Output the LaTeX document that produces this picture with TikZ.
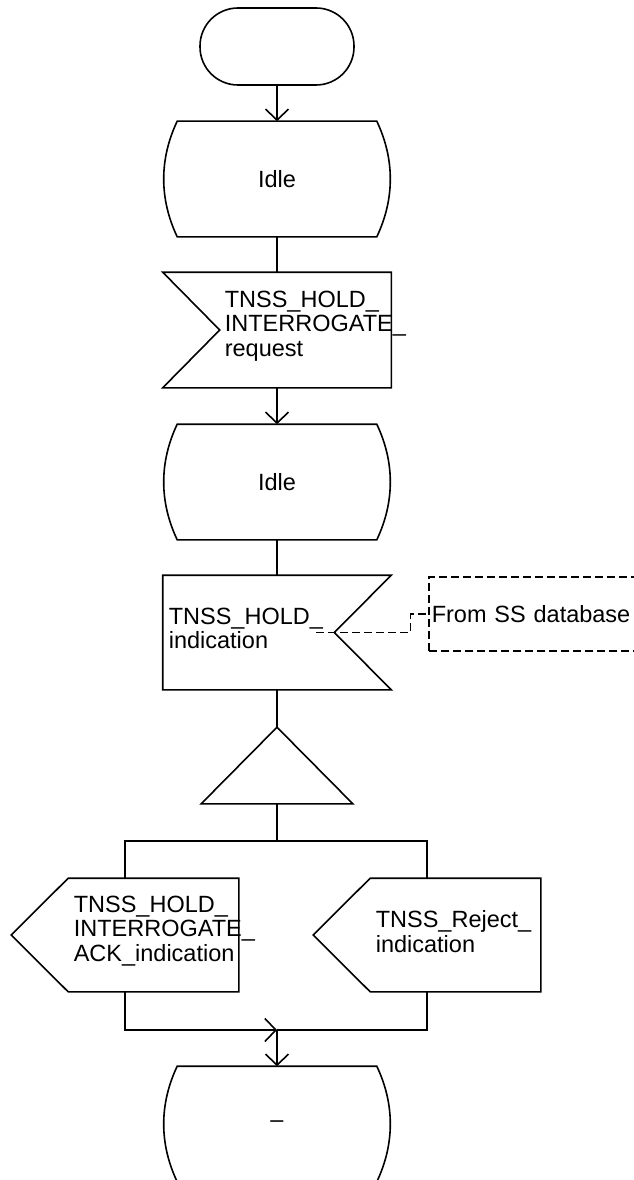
\documentclass[tikz,border=0pt]{standalone}
\usepackage{fontspec}
\setmainfont{Liberation Sans}
\usetikzlibrary{arrows.meta}
\newcommand\stateshape[1]{%
  \draw (#1.north west) -- (#1.north east)
    .. controls ([xshift=18pt,yshift=-38pt]#1.north east) and ([xshift=18pt,yshift=38pt]#1.south east) .. (#1.south east)
    -- (#1.south west)
    .. controls ([xshift=-18pt,yshift=38pt]#1.south west) and ([xshift=-18pt,yshift=-38pt]#1.north west) .. cycle;}
\begin{document}
\begin{tikzpicture}[x=1pt,y=-1pt,line width=1.6pt,
  every node/.style={font=\fontsize{23.5}{24.5}\selectfont},
  box/.style={inner sep=0pt,minimum width=#1},
  txt/.style={inner sep=0pt,anchor=north west,align=left},
  arr/.style={-{Straight Barb[length=11pt,width=23pt]}},
  dsh/.style={dash pattern=on 8pt off 4pt}]
   \clip (0,0) rectangle (634,1180);
   \node [draw,box=154,minimum height=77,rounded corners=38pt] (start) at (277,46.5) {};
   \node [box=198,minimum height=114] (idle1) at (277,179) {Idle};
   \stateshape{idle1}
   \node [box=227,minimum height=114] (in1) at (277,330) {};
   \draw (in1.north west) -- (in1.north east) -- (in1.south east) -- (in1.south west)
     -- ([xshift=57pt]in1.west) -- cycle;
   \node [txt] (in1txt) at (224,290) {TNSS\_HOLD\_\\INTERROGATE\_\\request};
   \node [box=198,minimum height=114] (idle2) at (277,482) {Idle};
   \stateshape{idle2}
   \node [box=227,minimum height=113] (in2) at (277,632.5) {};
   \draw (in2.north west) -- (in2.north east) -- ([xshift=-57pt]in2.east)
     -- (in2.south east) -- (in2.south west) -- cycle;
   \coordinate (in2tip) at ([xshift=-57pt]in2.east);
   \node [txt] (in2txt) at (168,607) {TNSS\_HOLD\_\\indication};
   \node [draw,dsh,anchor=west,inner xsep=3pt,text width=260pt,minimum height=74pt] (db) at (428,614) {From SS database};
   \draw [dsh] ([xshift=-18pt]in2tip) -- ++(94,0) |- (db.west);
   \node [box=150,minimum height=75] (dec) at (277,765.5) {};
   \draw (dec.north) -- (dec.south east) -- (dec.south west) -- cycle;
   \coordinate (split) at (277,841);
   \node [box=226,minimum height=112] (out1) at (125,935) {};
   \draw ([xshift=57pt]out1.north west) -- (out1.north east) -- (out1.south east)
     -- ([xshift=57pt]out1.south west) -- (out1.west) -- cycle;
   \node [txt] (out1txt) at (73,895) {TNSS\_HOLD\_\\INTERROGATE\_\\ACK\_indication};
   \node [box=226,minimum height=112] (out2) at (427,935) {};
   \draw ([xshift=57pt]out2.north west) -- (out2.north east) -- (out2.south east)
     -- ([xshift=57pt]out2.south west) -- (out2.west) -- cycle;
   \node [txt] (out2txt) at (375,910) {TNSS\_Reject\_\\indication};
   \coordinate (merge) at (277,1030);
   \node [box=198,minimum height=114] (fin) at (277,1124) {--};
   \stateshape{fin}
   \draw [arr] (start) -- (idle1);
   \draw (idle1) -- (in1);
   \draw [arr] (in1) -- (idle2);
   \draw (idle2) -- (in2);
   \draw (in2) -- (dec);
   \draw (dec.south) -- (split);
   \draw (out1.north) |- (split) -| (out2.north);
   \draw [arr] (out1.south) |- (merge);
   \draw (out2.south) |- (merge);
   \draw [arr] (merge) -- (fin);
\end{tikzpicture}
\end{document}
